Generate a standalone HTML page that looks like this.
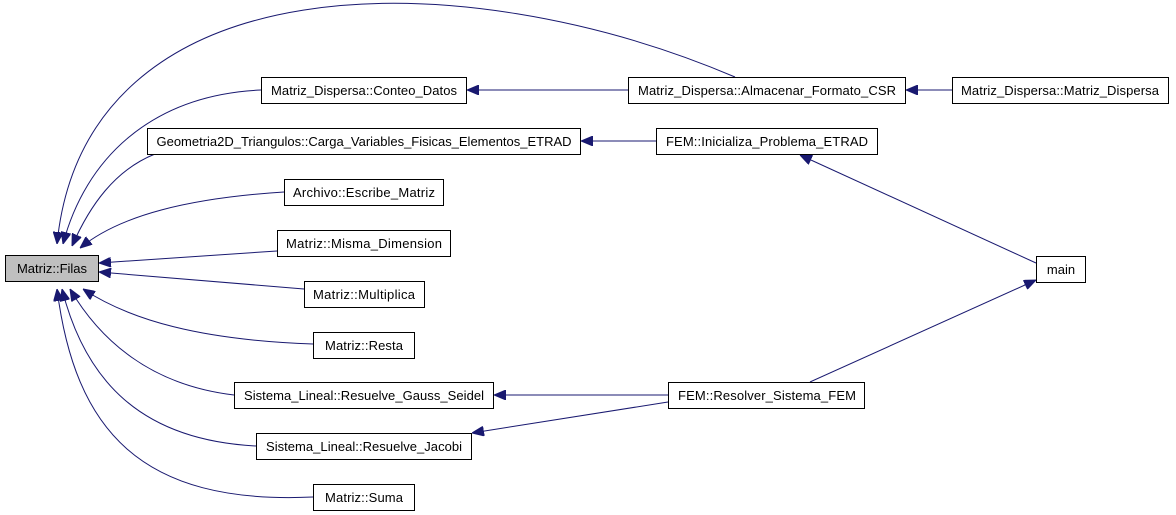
<!DOCTYPE html>
<html><head><meta charset="utf-8"><style>
html,body{margin:0;padding:0;background:#fff;}
svg{display:block;}
text{font-family:"Liberation Sans",Arial,sans-serif;font-size:13px;fill:#000;}
rect{stroke:#000;stroke-width:1;}
path,line{stroke:#191970;stroke-width:1;fill:none;}
</style></head><body>
<svg width="1176" height="515" viewBox="0 0 1176 515" xmlns="http://www.w3.org/2000/svg">
<defs>
<marker id="a" viewBox="0 0 12 10" refX="12" refY="5" markerWidth="12" markerHeight="10" markerUnits="userSpaceOnUse" orient="auto">
<path d="M0,0 L12,5 L0,10 Z" style="fill:#191970;stroke:#191970"/>
</marker>
</defs>
<path d="M735,77 C460,-40 85,-40 57,244" marker-end="url(#a)"/>
<path d="M261,90 C150,95 85,160 63,244" marker-end="url(#a)"/>
<path d="M155,154 C115,170 90,205 72,246" marker-end="url(#a)"/>
<path d="M284,192 C190,198 120,215 80,248" marker-end="url(#a)"/>
<path d="M277,251 L99,263" marker-end="url(#a)"/>
<path d="M304,289 L99,272" marker-end="url(#a)"/>
<path d="M313,344 C200,340 130,320 83,289" marker-end="url(#a)"/>
<path d="M234,395 C150,385 100,340 70,289" marker-end="url(#a)"/>
<path d="M256,446 C140,440 85,380 62,289" marker-end="url(#a)"/>
<path d="M313,497 C140,505 75,430 57,289" marker-end="url(#a)"/>
<path d="M628,90 L467,90" marker-end="url(#a)"/>
<path d="M952,90 L906,90" marker-end="url(#a)"/>
<path d="M656,141 L581,141" marker-end="url(#a)"/>
<path d="M1036,263 L800,155" marker-end="url(#a)"/>
<path d="M668,395 L494,395" marker-end="url(#a)"/>
<path d="M668,402 L472,433" marker-end="url(#a)"/>
<path d="M810,382 L1036,280" marker-end="url(#a)"/>
<rect x="5.5" y="255.5" width="93" height="26" fill="#bfbfbf"/>
<text x="52" y="273" text-anchor="middle">Matriz::Filas</text>
<rect x="261.5" y="77.5" width="205" height="26" fill="#fff"/>
<text x="364" y="95" text-anchor="middle" textLength="186">Matriz_Dispersa::Conteo_Datos</text>
<rect x="147.5" y="128.5" width="433" height="26" fill="#fff"/>
<text x="364" y="146" text-anchor="middle" textLength="415">Geometria2D_Triangulos::Carga_Variables_Fisicas_Elementos_ETRAD</text>
<rect x="284.5" y="179.5" width="159" height="26" fill="#fff"/>
<text x="364" y="197" text-anchor="middle" textLength="142">Archivo::Escribe_Matriz</text>
<rect x="277.5" y="230.5" width="173" height="26" fill="#fff"/>
<text x="364" y="248" text-anchor="middle" textLength="156">Matriz::Misma_Dimension</text>
<rect x="304.5" y="281.5" width="120" height="26" fill="#fff"/>
<text x="364" y="299" text-anchor="middle" textLength="102">Matriz::Multiplica</text>
<rect x="313.5" y="332.5" width="101" height="26" fill="#fff"/>
<text x="364" y="350" text-anchor="middle" textLength="78">Matriz::Resta</text>
<rect x="234.5" y="382.5" width="259" height="26" fill="#fff"/>
<text x="364" y="400" text-anchor="middle" textLength="240">Sistema_Lineal::Resuelve_Gauss_Seidel</text>
<rect x="256.5" y="433.5" width="215" height="26" fill="#fff"/>
<text x="364" y="451" text-anchor="middle" textLength="196">Sistema_Lineal::Resuelve_Jacobi</text>
<rect x="313.5" y="484.5" width="101" height="26" fill="#fff"/>
<text x="364" y="502" text-anchor="middle" textLength="78">Matriz::Suma</text>
<rect x="628.5" y="77.5" width="277" height="26" fill="#fff"/>
<text x="767" y="95" text-anchor="middle" textLength="258">Matriz_Dispersa::Almacenar_Formato_CSR</text>
<rect x="952.5" y="77.5" width="216" height="26" fill="#fff"/>
<text x="1060" y="95" text-anchor="middle" textLength="198">Matriz_Dispersa::Matriz_Dispersa</text>
<rect x="656.5" y="128.5" width="221" height="26" fill="#fff"/>
<text x="767" y="146" text-anchor="middle" textLength="202">FEM::Inicializa_Problema_ETRAD</text>
<rect x="1036.5" y="256.5" width="49" height="26" fill="#fff"/>
<text x="1061" y="274" text-anchor="middle">main</text>
<rect x="668.5" y="382.5" width="196" height="26" fill="#fff"/>
<text x="767" y="400" text-anchor="middle" textLength="178">FEM::Resolver_Sistema_FEM</text>
</svg>
</body></html>
